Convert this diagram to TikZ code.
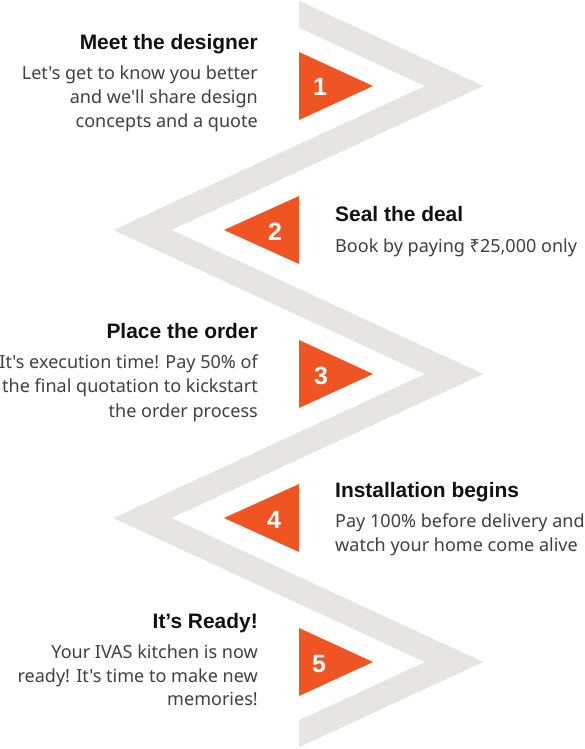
\documentclass[tikz,border=0pt]{standalone}
\usepackage{fontspec}
\setmainfont{Noto Sans}[Ligatures=TeXOff]
\newfontfamily\boldfam{Liberation Sans}[Ligatures=TeXOff]
\definecolor{bandc}{HTML}{E6E5E3}
\definecolor{accent}{HTML}{F05423}
\definecolor{titlec}{HTML}{111111}
\definecolor{bodyc}{HTML}{404040}
\newlength\refw
\newlength\reftw
\begin{document}
\settowidth\refw{\fontsize{10}{12}\selectfont Let's get to know you better}%
\pgfmathsetmacro\bodysz{10*236/\refw}%
\settowidth\reftw{\fontsize{10}{12}\selectfont\boldfam\bfseries Meet the designer}%
\pgfmathsetmacro\titlesz{10*178/\reftw}%
\begin{tikzpicture}[x=1pt,y=-1pt]
\tikzset{
  ttl/.style={inner sep=0pt, font=\fontsize{\titlesz}{\titlesz}\selectfont\boldfam\bfseries, text=titlec},
  bdy/.style={inner sep=0pt, font=\fontsize{\bodysz}{\bodysz}\selectfont, text=bodyc},
  num/.style={inner sep=0pt, font=\fontsize{25}{25}\selectfont\boldfam\bfseries, text=white, text height=18pt, text depth=0pt, anchor=center},
  tri/.style={fill=accent},
  band/.style={draw=bandc, line width=24.5pt, line join=miter, miter limit=20},
  lft/.style={anchor=base east},
  rgt/.style={anchor=base west},
}
\useasboundingbox (0,0) rectangle (585,749);
\fill[white] (0,0) rectangle (585,749);
% zigzag band
\begin{scope}
\clip (299,-50) rectangle (700,800) (-50,100) rectangle (700,690);
\draw[band] (250,-8.4) -- (454,86) -- (142.5,230) -- (454,374) -- (142.5,518) -- (454,662) -- (250,756.4);
\end{scope}
% triangles
\fill[tri] (299,52) -- (299,120) -- (373,86) -- cycle;
\fill[tri] (299,196) -- (299,264) -- (224,230) -- cycle;
\fill[tri] (299,340) -- (299,408) -- (373,374) -- cycle;
\fill[tri] (299,484) -- (299,552) -- (224,518) -- cycle;
\fill[tri] (299,628) -- (299,696) -- (373,662) -- cycle;
% numbers
\node[num] (n1) at (320,87) {1};
\node[num] (n2) at (275,231) {2};
\node[num] (n3) at (321,375) {3};
\node[num] (n4) at (274,519) {4};
\node[num] (n5) at (319,663) {5};
% step 1
\node[ttl,lft] (t1) at (258,50) {Meet the designer};
\node[bdy,lft] (b1a) at (258,80) {Let's get to know you better};
\node[bdy,lft] (b1b) at (258,104) {and we'll share design};
\node[bdy,lft] (b1c) at (258,128) {concepts and a quote};
% step 2
\node[ttl,rgt] (t2) at (335,221) {Seal the deal};
\node[bdy,rgt] (b2a) at (335,252) {Book by paying ₹25,000 only};
% step 3
\node[ttl,lft] (t3) at (258,338.5) {Place the order};
\node[bdy,lft] (b3a) at (258,368) {It's execution time! Pay 50\% of};
\node[bdy,lft] (b3b) at (258,392.5) {the final quotation to kickstart};
\node[bdy,lft] (b3c) at (258,417) {the order process};
% step 4
\node[ttl,rgt] (t4) at (335,497) {Installation begins};
\node[bdy,rgt] (b4a) at (335,527) {Pay 100\% before delivery and};
\node[bdy,rgt] (b4b) at (335,551.5) {watch your home come alive};
% step 5
\node[ttl,lft] (t5) at (258,628) {It’s Ready!};
\node[bdy,lft] (b5a) at (258,658.5) {Your IVAS kitchen is now};
\node[bdy,lft] (b5b) at (258,682) {ready! It's time to make new};
\node[bdy,lft] (b5c) at (258,705.5) {memories!};
\end{tikzpicture}
\end{document}
